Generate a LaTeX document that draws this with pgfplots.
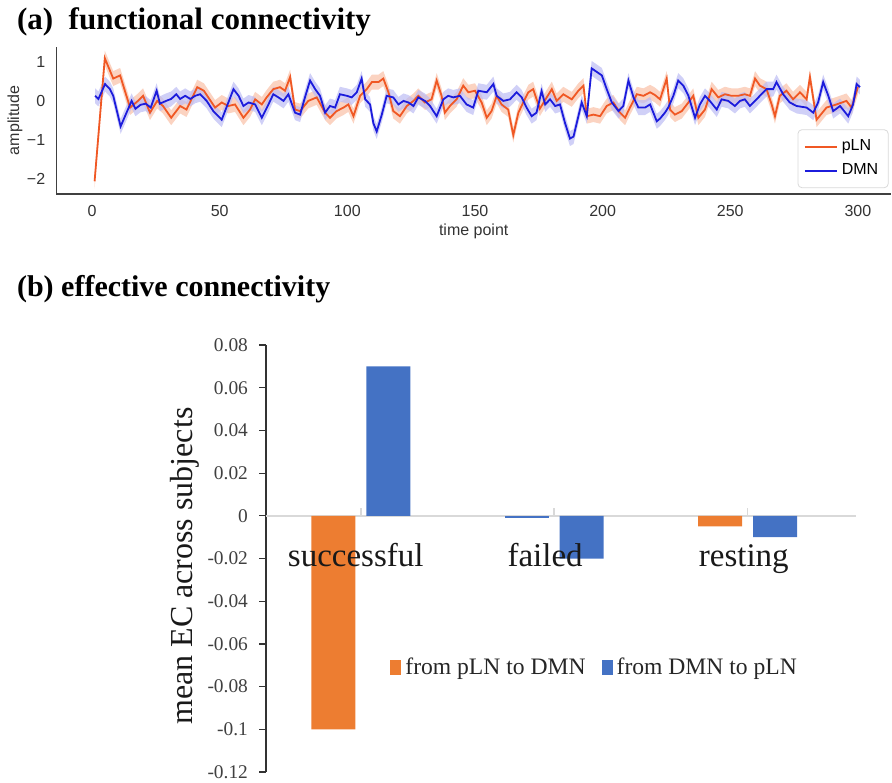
\documentclass[border=0pt]{standalone}
\usepackage{fontspec}
\setmainfont{Liberation Serif}
\newfontfamily\arial{Liberation Sans}
\usepackage{pgfplots}
\usepackage{pgfplotstable}
\pgfplotsset{compat=1.18}
\usepgfplotslibrary{fillbetween}

\definecolor{pln}{RGB}{240,88,36}
\definecolor{dmn}{RGB}{28,28,220}
\definecolor{plnband}{RGB}{250,196,172}
\definecolor{dmnband}{RGB}{188,188,244}
\definecolor{xlo}{RGB}{237,125,49}
\definecolor{xlb}{RGB}{68,114,196}

\pgfplotsset{
  sqlegend/.style={legend image code/.code={\fill[##1,draw=none] (0pt,-3.8pt) rectangle (5.5pt,3.8pt);}},
  linelegend/.style={legend image code/.code={\draw[##1] (0pt,0pt) -- (16pt,0pt);}},
}

\pgfplotstableread{
t v
1 -2.05
5 1.09
8.3 0.57
11 0.65
14.9 -0.17
18 0.0
20 0.13
22.7 -0.3
25.5 0.0
27.8 -0.13
31 -0.43
34.5 -0.13
37 -0.22
39.6 0.13
41.2 0.35
43.8 0.26
48.2 -0.17
50.8 -0.04
53.4 -0.13
56 -0.09
59.3 -0.43
61.9 -0.22
63.9 0.04
66.5 -0.09
68.4 0.09
71 0.30
73.6 0.35
75.6 0.26
77.6 0.61
79.5 -0.22
81.5 -0.26
84.7 0.0
88 0.09
91.3 -0.30
93.2 -0.43
95.8 -0.26
98.5 -0.17
100.4 -0.09
102.4 -0.39
105 0.13
107.6 0.30
109.6 0.48
112.2 0.48
114.1 0.57
116.1 0.22
118 -0.26
120.6 -0.39
123.3 -0.13
125.9 0.0
127.8 0.13
130.4 -0.04
133 0.04
135 0.52
136.9 0.13
138.2 -0.30
140.2 -0.13
142.8 0.04
145.4 0.39
147.4 0.22
150 0.26
152.6 -0.04
154.6 -0.43
156.5 -0.26
158.5 0.13
160.4 -0.09
163 -0.22
165 -0.87
167 -0.30
168.9 -0.04
170.9 0.22
172.8 0.30
175.4 -0.2
178.1 0.09
180.1 0.30
182 0.0
184.6 0.17
187.9 0.04
190.5 0.26
192.5 0.39
193.8 -0.39
196.4 -0.35
199 -0.39
201.6 -0.13
204.2 -0.04
206.8 -0.30
208.8 -0.43
210.7 -0.17
213.4 0.17
216 0.13
218.6 0.22
220.5 0.15
222.5 0.04
225.1 0.57
226.4 -0.22
228.3 -0.35
231 -0.26
233.6 -0.04
235.5 0.13
237.5 -0.43
240.1 -0.22
242.7 0.30
245.3 0.09
247.9 0.17
250.5 0.13
253.1 0.13
255.7 0.17
257.7 0.13
259.7 0.57
261.6 0.39
264.2 0.30
266.2 -0.09
267.5 -0.39
269.4 0.13
272 0.26
274.6 0.04
277.3 0.22
279.9 0.04
281.2 0.61
283.8 -0.48
287.7 -0.17
291.6 -0.09
295.5 0.0
297.5 -0.17
300 0.35
}\plnTable

\pgfplotstableread{
t v
1.2 0.13
2.5 0.05
5.1 0.43
7 0.30
8.3 0.13
11.2 -0.65
15.5 0.0
17 -0.2
19 -0.1
21 -0.07
23 -0.17
25.3 0.26
26.6 -0.07
29 0.0
31 0.05
33 0.17
34.5 0.05
36.5 0.13
38.5 0.05
40.4 0.13
42.3 0.17
44.9 0.0
47.5 -0.26
50.8 -0.48
53.4 -0.04
55.4 0.30
57.4 0.13
59.3 -0.13
61.3 -0.04
63.9 -0.09
66.5 -0.43
69.1 -0.09
71 0.17
73 0.09
75 0.0
76.9 0.17
79.5 -0.30
81.5 -0.35
83.4 0.09
85.4 0.52
87.4 0.30
89.3 0.13
91.3 -0.30
93.2 -0.13
95.2 -0.17
97.1 0.17
99.8 0.13
101.7 0.09
103.7 0.22
105.6 0.57
107 0.04
108.9 -0.09
110.2 -0.57
111.5 -0.78
113.5 -0.35
115.4 0.13
118 0.09
120 -0.09
122 0.0
123.9 -0.04
125.9 -0.13
127.8 0.09
130.4 0.0
132.4 -0.13
135 -0.39
137.6 0.04
139.5 0.13
141.5 0.09
144.1 0.13
146.7 -0.09
149.3 -0.17
151.3 0.26
154.6 0.22
157.2 0.43
158.5 0.13
161.1 0.0
163.7 0.04
166.3 0.22
168.3 0.09
170.2 -0.17
172.2 -0.39
174.1 -0.30
176.1 0.25
177.5 -0.09
179.4 0.04
181.4 -0.13
183.3 -0.09
185.3 -0.57
187.2 -0.96
188.6 -0.91
190.5 -0.39
191.8 -0.04
193.8 -0.39
195.7 0.83
197.7 0.74
199.7 0.65
201.6 0.30
203.6 -0.04
206.2 -0.26
208.1 -0.13
210.1 0.52
212.1 0.09
214 -0.17
216.6 -0.17
218.6 -0.09
221.2 -0.52
222.5 -0.45
224.4 -0.30
225.7 -0.17
227.7 0.13
229.6 0.52
231.6 0.39
233.6 0.13
236.2 -0.43
238.1 -0.09
240.1 0.13
242 0.0
244.7 -0.22
246.6 0.04
249.2 0.0
251.8 -0.13
253.8 0.0
255.7 0.04
257.7 -0.13
259.7 0.0
261.6 0.13
264.2 0.30
266.8 0.30
268.1 0.48
270.7 0.17
273.3 -0.04
276 -0.13
279.9 -0.17
282.5 -0.30
284.4 -0.04
286.4 0.48
288.4 0.13
290.3 -0.26
293 -0.13
296.2 -0.39
298.1 -0.09
299.5 0.43
300.8 0.35
}\dmnTable

\begin{document}
\begin{tikzpicture}[x=1pt,y=1pt]

\node[anchor=base west, font=\bfseries\fontsize{15.5}{18}\selectfont] at (5,-14.5) {(a)\ \ functional connectivity};
\node[anchor=base west, font=\bfseries\fontsize{15}{18}\selectfont] at (5,-148) {(b) effective connectivity};

% ---------- top panel ----------
\begin{axis}[
  at={(28.15pt,-97pt)}, anchor=south west,
  scale only axis, width=417.4pt, height=73.6pt,
  xmin=-14, xmax=313, ymin=-2.375, ymax=1.38,
  axis lines*=left,
  axis line style={draw=black!75, line width=0.8pt},
  xtick={0,50,100,150,200,250,300},
  ytick={-2,-1,0,1}, yticklabels={−2,−1,0,1},
  major tick length=0pt,
  /pgf/number format/assume math mode=true,
  tick label style={font=\arial\fontsize{8}{9}\selectfont, text=black!80},
  xticklabel style={yshift=-2pt},
  yticklabel style={xshift=-2pt},
  xlabel={time point}, ylabel={amplitude},
  xlabel style={yshift=3pt, font=\arial\fontsize{8}{9}\selectfont, text=black!80},
  every axis y label/.style={at={(axis description cs:-0.0495,0.5)}, rotate=90, anchor=center,
     font=\arial\fontsize{8}{9}\selectfont, text=black!80},
  legend style={at={(0.997,0.04)}, anchor=south east, draw=black!15, rounded corners=2pt,
     font=\arial\fontsize{8}{9}\selectfont, row sep=1pt, inner sep=3pt},
  legend cell align=left,
]
\addplot[name path=pu, draw=none, forget plot] table[x=t, y expr=\thisrow{v}+0.19]{\plnTable};
\addplot[name path=pl, draw=none, forget plot] table[x=t, y expr=\thisrow{v}-0.19]{\plnTable};
\addplot[plnband, fill opacity=0.75, forget plot] fill between[of=pu and pl];
\addplot[name path=du, draw=none, forget plot] table[x=t, y expr=\thisrow{v}+0.19]{\dmnTable};
\addplot[name path=dl, draw=none, forget plot] table[x=t, y expr=\thisrow{v}-0.19]{\dmnTable};
\addplot[dmnband, fill opacity=0.7, forget plot] fill between[of=du and dl];
\addplot[pln, line width=0.9pt, linelegend] table[x=t, y=v]{\plnTable};
\addlegendentry{pLN}
\addplot[dmn, line width=0.9pt, linelegend] table[x=t, y=v]{\dmnTable};
\addlegendentry{DMN}
\end{axis}

% ---------- bottom panel ----------
\begin{axis}[
  at={(133pt,-386pt)}, anchor=south west,
  scale only axis, width=295pt, height=213.5pt,
  xmin=-0.49, xmax=2.56, ymin=-0.12, ymax=0.08,
  axis x line=none, axis y line*=left,
  axis line style={draw=black!80, line width=0.6pt},
  ytick={-0.12,-0.1,-0.08,-0.06,-0.04,-0.02,0,0.02,0.04,0.06,0.08},
  yticklabels={-0.12,-0.1,-0.08,-0.06,-0.04,-0.02,0,0.02,0.04,0.06,0.08},
  scaled y ticks=false,
  tick align=outside, major tick length=3.5pt,
  tick style={draw=black!80, line width=0.6pt},
  y tick label style={font=\fontsize{9.7}{11}\selectfont, text=black!75, xshift=-2pt},
  ylabel={mean EC across subjects},
  every axis y label/.style={at={(axis description cs:-0.137,0.482)}, rotate=90, anchor=center,
     font=\fontsize{16}{18}\selectfont, text=black!90},
  legend style={at={(axis description cs:0.2,0.244)}, anchor=west, draw=none, fill=none,
     font=\fontsize{11.8}{13}\selectfont, text=black!85,
     /tikz/every even column/.append style={column sep=6pt}},
  legend columns=2,
]
\draw[black!15, line width=0.8pt] (axis cs:-0.49,0) -- (axis cs:2.56,0);
\draw[black!15, line width=0.8pt] (axis cs:0,0) -- ([yshift=3.8pt]axis cs:0,0);
\draw[black!15, line width=0.8pt] (axis cs:1,0) -- ([yshift=3.8pt]axis cs:1,0);
\draw[black!15, line width=0.8pt] (axis cs:2,0) -- ([yshift=3.8pt]axis cs:2,0);
\addplot[ybar, bar width=22pt, bar shift=-13.75pt, fill=xlo, draw=none, sqlegend]
   coordinates {(0,-0.1) (2,-0.005)};
\addlegendentry{from pLN to DMN}
\addplot[ybar, bar width=22pt, bar shift=13.75pt, fill=xlb, draw=none, sqlegend]
   coordinates {(0,0.07) (1,-0.02) (2,-0.01)};
\addlegendentry{from DMN to pLN}
\addplot[ybar, bar width=22pt, bar shift=-13.75pt, fill=xlb, draw=none, forget plot]
   coordinates {(1,-0.001)};
\node[anchor=base, font=\fontsize{16.5}{18}\selectfont, text=black!90] at (axis cs:-0.026,0) [yshift=-25.5pt] {successful};
\node[anchor=base, font=\fontsize{16.5}{18}\selectfont, text=black!90] at (axis cs:0.953,0) [yshift=-25.5pt] {failed};
\node[anchor=base, font=\fontsize{16.5}{18}\selectfont, text=black!90] at (axis cs:1.98,0) [yshift=-25.5pt] {resting};
\end{axis}
\pgfresetboundingbox
\useasboundingbox (0,0) rectangle (446,-391);
\end{tikzpicture}
\end{document}
